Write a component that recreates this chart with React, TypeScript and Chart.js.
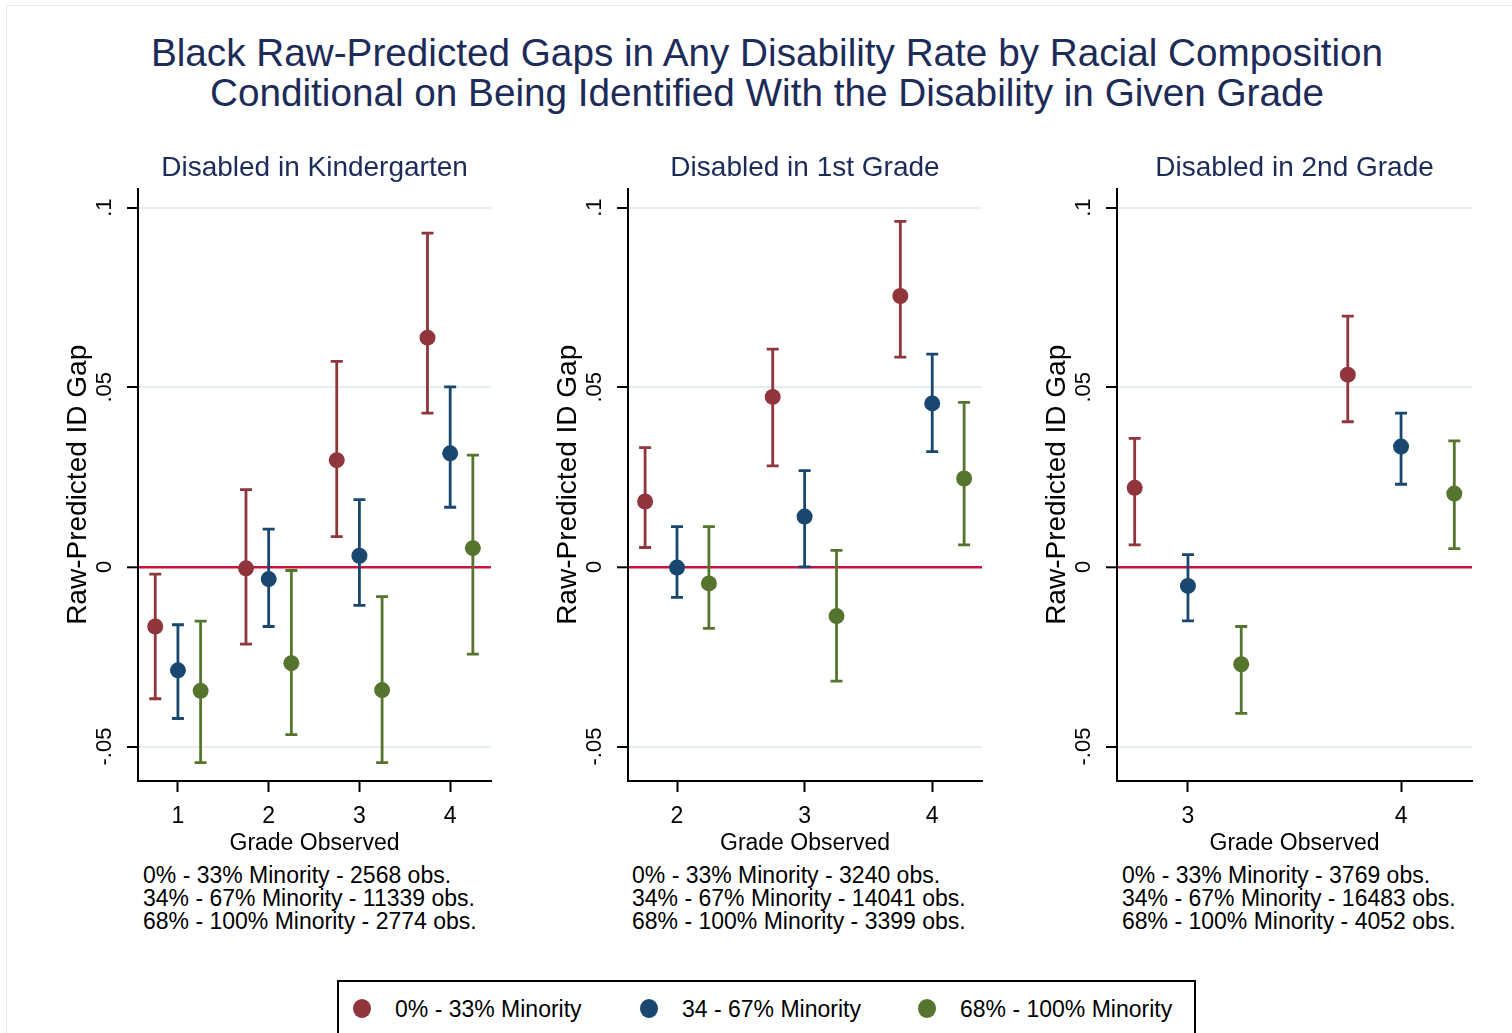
import React, { useEffect, useRef } from "react";
import { Chart, registerables } from "chart.js";

Chart.register(...registerables);

// ---------------- DATA ----------------
const titleLines = [
  "Black Raw-Predicted Gaps in Any Disability Rate by Racial Composition",
  "Conditional on Being Identified With the Disability in Given Grade",
];
const legendLabels = ["0% - 33% Minority", "34 - 67% Minority", "68% - 100% Minority"];
const noteGroups = ["0% - 33% Minority", "34% - 67% Minority", "68% - 100% Minority"];
const yTickValues = [-0.05, 0, 0.05, 0.1];

// Disabled in Kindergarten
const kGrades = [1, 2, 3, 4];
const kLowEst = [-0.0166, -0.0004, 0.0297, 0.0638];
const kLowLo = [-0.0367, -0.0215, 0.0084, 0.0428];
const kLowHi = [-0.002, 0.0215, 0.0572, 0.0929];
const kMidEst = [-0.0288, -0.0034, 0.0031, 0.0316];
const kMidLo = [-0.0422, -0.0166, -0.0107, 0.0166];
const kMidHi = [-0.0161, 0.0105, 0.0187, 0.0501];
const kHighEst = [-0.0345, -0.0268, -0.0343, 0.0052];
const kHighLo = [-0.0545, -0.0467, -0.0545, -0.0243];
const kHighHi = [-0.0151, -0.001, -0.0083, 0.0311];
const kObs = [2568, 11339, 2774];

// Disabled in 1st Grade
const g1Grades = [2, 3, 4];
const g1LowEst = [0.0182, 0.0473, 0.0754];
const g1LowLo = [0.0054, 0.0281, 0.0584];
const g1LowHi = [0.0332, 0.0606, 0.0962];
const g1MidEst = [-0.0002, 0.014, 0.0455];
const g1MidLo = [-0.0085, 0.0, 0.0321];
const g1MidHi = [0.0112, 0.0268, 0.0592];
const g1HighEst = [-0.0046, -0.0137, 0.0246];
const g1HighLo = [-0.0171, -0.0318, 0.0061];
const g1HighHi = [0.0112, 0.0046, 0.0458];
const g1Obs = [3240, 14041, 3399];

// Disabled in 2nd Grade
const g2Grades = [3, 4];
const g2LowEst = [0.022, 0.0535];
const g2LowLo = [0.0061, 0.0404];
const g2LowHi = [0.0358, 0.0698];
const g2MidEst = [-0.0053, 0.0335];
const g2MidLo = [-0.015, 0.023];
const g2MidHi = [0.0034, 0.0428];
const g2HighEst = [-0.0271, 0.0204];
const g2HighLo = [-0.0408, 0.0051];
const g2HighHi = [-0.0166, 0.0351];
const g2Obs = [3769, 16483, 4052];

// ---------------- STYLE ----------------
const FONT = "'Liberation Sans', Arial, Helvetica, sans-serif";
const NAVY = "#1c2b58";
const COLORS = ["#90353b", "#1a476f", "#55752f"];
const ZERO = "#c8143c";
const GRID = "#e6eef0";
const OFFSETS = [-0.25, 0, 0.25];
const Y_MIN = -0.0596;
const Y_MAX = 0.1053;

const fmtY = (v: number) => (v === 0 ? "0" : String(v).replace("0.", "."));

const errorBarPlugin = {
  id: "errorBars",
  beforeDatasetsDraw(chart: any) {
    const ctx = chart.ctx;
    const ys = chart.scales.y;
    chart.data.datasets.forEach((ds: any, di: number) => {
      const meta = chart.getDatasetMeta(di);
      ctx.save();
      ctx.strokeStyle = ds.backgroundColor;
      ctx.lineWidth = 2.8;
      ctx.lineCap = "butt";
      meta.data.forEach((pt: any, i: number) => {
        const x = pt.x;
        const yl = ys.getPixelForValue(ds.lo[i]);
        const yh = ys.getPixelForValue(ds.hi[i]);
        ctx.beginPath();
        ctx.moveTo(x, yl);
        ctx.lineTo(x, yh);
        ctx.moveTo(x - 6, yl);
        ctx.lineTo(x + 6, yl);
        ctx.moveTo(x - 6, yh);
        ctx.lineTo(x + 6, yh);
        ctx.stroke();
      });
      ctx.restore();
    });
  },
};

type Series = { est: number[]; lo: number[]; hi: number[] };

function Panel(props: {
  title: string;
  grades: number[];
  series: Series[];
  xMin: number;
  xMax: number;
  left: number;
  width: number;
}) {
  const ref = useRef<HTMLCanvasElement | null>(null);
  useEffect(() => {
    if (!ref.current) return;
    const { grades, series } = props;
    const chart = new Chart(ref.current, {
      type: "scatter",
      data: {
        datasets: series.map((s, k) => ({
          label: legendLabels[k],
          data: grades.map((g, i) => ({ x: g + OFFSETS[k], y: s.est[i] })),
          lo: s.lo,
          hi: s.hi,
          backgroundColor: COLORS[k],
          borderColor: COLORS[k],
          pointRadius: 8,
          pointHoverRadius: 8,
          pointBorderWidth: 0,
          showLine: false,
        })) as any,
      },
      options: {
        animation: false,
        responsive: false,
        events: [],
        layout: { padding: 0 },
        plugins: {
          legend: { display: false },
          tooltip: { enabled: false },
          title: {
            display: true,
            text: props.title,
            fullSize: false,
            color: NAVY,
            font: { family: FONT, size: 28, weight: "normal" as any },
            padding: { top: 11, bottom: 4 },
          },
        },
        scales: {
          x: {
            type: "linear",
            min: props.xMin,
            max: props.xMax,
            afterBuildTicks: (s: any) => {
              s.ticks = grades.map((v) => ({ value: v }));
            },
            afterFit: (s: any) => {
              s.height = 79;
            },
            grid: {
              drawOnChartArea: false,
              drawTicks: true,
              tickLength: 11,
              tickColor: "#000",
              tickWidth: 2,
            },
            border: { display: true, color: "#000", width: 2 },
            ticks: {
              color: "#000",
              font: { family: FONT, size: 23 },
              padding: 11,
              autoSkip: false,
              maxRotation: 0,
              callback: (v: any) => String(v),
            },
            title: {
              display: true,
              text: "Grade Observed",
              color: "#000",
              font: { family: FONT, size: 23 },
              padding: { top: 0, bottom: 3 },
            },
          },
          y: {
            type: "linear",
            min: Y_MIN,
            max: Y_MAX,
            afterBuildTicks: (s: any) => {
              s.ticks = yTickValues.map((v) => ({ value: v }));
            },
            afterFit: (s: any) => {
              s.width = 79;
            },
            grid: {
              color: (c: any) => (c.tick && c.tick.value === 0 ? ZERO : GRID),
              lineWidth: (c: any) => (c.tick && c.tick.value === 0 ? 2.6 : 2),
              tickColor: "#000",
              tickLength: 11,
              tickWidth: 2,
            },
            border: { display: true, color: "#000", width: 2 },
            ticks: {
              color: "#000",
              font: { family: FONT, size: 22 },
              minRotation: 90,
              maxRotation: 90,
              crossAlign: "center",
              padding: 3,
              callback: (v: any) => fmtY(Number(v)),
            },
            title: {
              display: true,
              text: "Raw-Predicted ID Gap",
              color: "#000",
              font: { family: FONT, size: 28 },
              padding: { top: 2, bottom: 0 },
            },
          },
        },
      } as any,
      plugins: [errorBarPlugin],
    });
    return () => chart.destroy();
  }, []);
  return (
    <canvas
      ref={ref}
      width={props.width}
      height={720}
      style={{ position: "absolute", left: props.left, top: 140, width: props.width, height: 720 }}
    />
  );
}

function Notes(props: { left: number; obs: number[] }) {
  return (
    <div
      style={{
        position: "absolute",
        left: props.left,
        top: 864,
        fontSize: 23,
        lineHeight: "23px",
        color: "#000",
        whiteSpace: "nowrap",
      }}
    >
      {props.obs.map((o, i) => (
        <div key={i}>{`${noteGroups[i]} - ${o} obs.`}</div>
      ))}
    </div>
  );
}

const legendMarkerX = [362, 649, 927];

export default function App() {
  return (
    <div
      style={{
        position: "absolute",
        left: 0,
        top: 0,
        width: 1512,
        height: 1033,
        overflow: "hidden",
        background: "#fff",
        fontFamily: FONT,
      }}
    >
      <div
        style={{
          position: "absolute",
          left: 6,
          top: 5,
          width: 1600,
          height: 1100,
          border: "1px solid #ececec",
        }}
      />
      <div
        style={{
          position: "absolute",
          left: 67,
          top: 32.5,
          width: 1400,
          textAlign: "center",
          fontSize: 38.7,
          lineHeight: "40px",
          color: NAVY,
          whiteSpace: "nowrap",
        }}
      >
        {titleLines.map((t, i) => (
          <div key={i}>{t}</div>
        ))}
      </div>

      <Panel
        title="Disabled in Kindergarten"
        grades={kGrades}
        series={[
          { est: kLowEst, lo: kLowLo, hi: kLowHi },
          { est: kMidEst, lo: kMidLo, hi: kMidHi },
          { est: kHighEst, lo: kHighLo, hi: kHighHi },
        ]}
        xMin={0.56}
        xMax={4.45}
        left={59}
        width={440}
      />
      <Panel
        title="Disabled in 1st Grade"
        grades={g1Grades}
        series={[
          { est: g1LowEst, lo: g1LowLo, hi: g1LowHi },
          { est: g1MidEst, lo: g1MidLo, hi: g1MidHi },
          { est: g1HighEst, lo: g1HighLo, hi: g1HighHi },
        ]}
        xMin={1.616}
        xMax={4.39}
        left={549}
        width={441}
      />
      <Panel
        title="Disabled in 2nd Grade"
        grades={g2Grades}
        series={[
          { est: g2LowEst, lo: g2LowLo, hi: g2LowHi },
          { est: g2MidEst, lo: g2MidLo, hi: g2MidHi },
          { est: g2HighEst, lo: g2HighLo, hi: g2HighHi },
        ]}
        xMin={2.667}
        xMax={4.333}
        left={1038}
        width={442}
      />

      <Notes left={143} obs={kObs} />
      <Notes left={632} obs={g1Obs} />
      <Notes left={1122} obs={g2Obs} />

      <div
        style={{
          position: "absolute",
          left: 337,
          top: 980,
          width: 855,
          height: 80,
          border: "2px solid #000",
          background: "#fff",
        }}
      />
      {legendLabels.map((lab, i) => (
        <React.Fragment key={i}>
          <div
            style={{
              position: "absolute",
              left: legendMarkerX[i] - 9,
              top: 999,
              width: 18,
              height: 19,
              borderRadius: "50%",
              background: COLORS[i],
            }}
          />
          <div
            style={{
              position: "absolute",
              left: legendMarkerX[i] + 33,
              top: 998,
              fontSize: 23,
              lineHeight: "23px",
              color: "#000",
              whiteSpace: "nowrap",
            }}
          >
            {lab}
          </div>
        </React.Fragment>
      ))}
    </div>
  );
}
